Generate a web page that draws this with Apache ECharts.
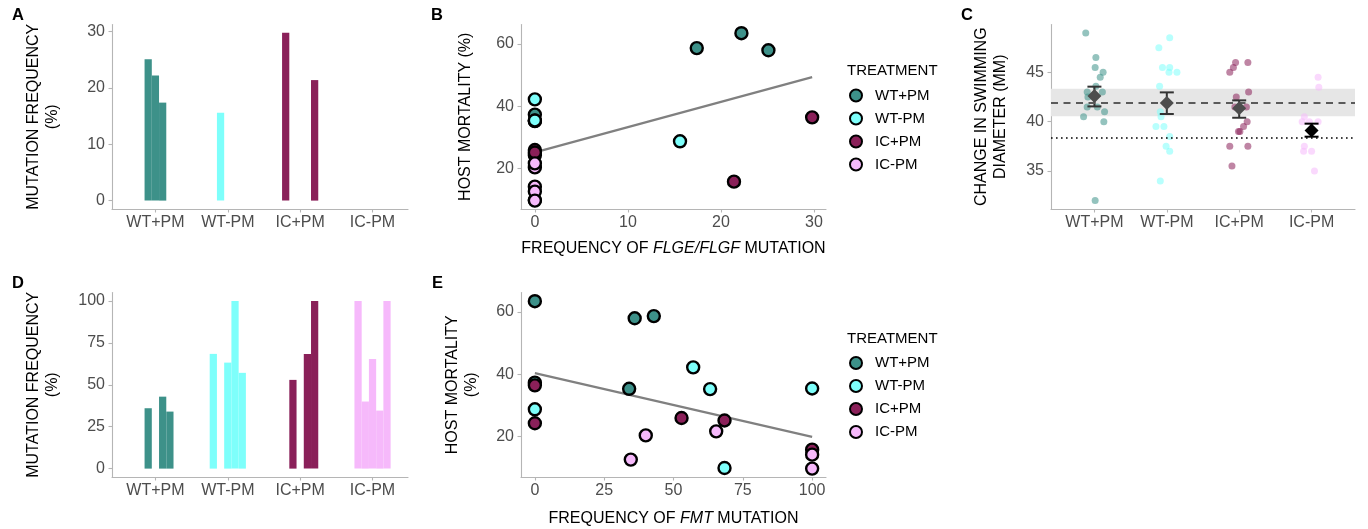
<!DOCTYPE html>
<html><head><meta charset="utf-8">
<script src="https://cdn.jsdelivr.net/npm/echarts@6/dist/echarts.min.js"></script>
<style>html,body{margin:0;padding:0;background:#fff}#c{width:1368px;height:529px}</style>
</head><body><div id="c"></div>
<script>
// ---------------- DATA ----------------
const treatments = ['WT+PM', 'WT-PM', 'IC+PM', 'IC-PM'];
const treatmentColors = ['#3d9189', '#7efffb', '#8a2059', '#f6b9fb'];

// five replicate populations per treatment (same order in every array)
const flgFreq_WTpPM = [0, 25.1, 22.2, 17.4, 0];
const flgFreq_WTmPM = [0, 15.6, 0, 0, 0];
const flgFreq_ICpPM = [29.8, 0, 0, 0, 21.4];
const flgFreq_ICmPM = [0, 0, 0, 0, 0];

const fmtFreq_WTpPM = [0, 36.0, 0, 42.9, 34.0];
const fmtFreq_WTmPM = [68.4, 0, 63.2, 100, 57.1];
const fmtFreq_ICpPM = [0, 52.9, 0, 68.4, 100];
const fmtFreq_ICmPM = [100, 40.0, 65.4, 34.6, 100];

const mortality_WTpPM = [37.3, 58.0, 63.5, 58.7, 35.3];
const mortality_WTmPM = [9.8, 28.7, 35.2, 35.4, 42.2];
const mortality_ICpPM = [36.4, 25.9, 24.2, 25.1, 15.7];
const mortality_ICmPM = [14.1, 20.3, 21.6, 12.5, 9.6];

// panel C: change in swimming diameter (mm) per replicate, with jitter offsets
const swim_WTpPM = [49.0, 46.5, 45.5, 45.0, 44.5, 43.6, 43.0, 43.0, 42.5, 41.5, 41.5, 40.5, 41.0, 40.0, 32.0];
const jit_WTpPM  = [-0.12, 0.02, 0.01, 0.12, 0.08, 0.02, -0.10, 0.11, -0.09, -0.10, 0.04, -0.15, 0.14, 0.13, 0.01];
const swim_WTmPM = [48.5, 47.5, 45.5, 45.5, 45.0, 45.0, 43.6, 41.0, 40.5, 39.5, 39.5, 38.5, 37.5, 37.0, 34.0];
const jit_WTmPM  = [0.04, -0.11, -0.06, 0.04, 0.03, 0.14, -0.10, -0.09, -0.08, -0.15, -0.04, 0.04, -0.01, 0.04, -0.09];
const swim_ICpPM = [46.0, 46.0, 45.5, 45.0, 42.5, 43.0, 41.5, 41.5, 40.0, 39.5, 39.0, 39.0, 37.5, 37.5, 35.5];
const jit_ICpPM  = [-0.05, 0.12, -0.08, -0.13, -0.04, 0.13, -0.06, 0.10, 0.11, 0.06, -0.01, 0.01, -0.13, 0.12, -0.10];
const swim_ICmPM = [44.5, 43.5, 40.5, 40.0, 40.0, 40.0, 37.5, 37.0, 37.0, 35.0];
const jit_ICmPM  = [0.09, 0.10, -0.10, -0.13, -0.03, 0.09, -0.10, -0.11, 0.00, 0.04];

const swimMean  = [42.6, 41.9, 41.35, 39.1];
const swimLower = [41.55, 40.78, 40.4, 38.48];
const swimUpper = [43.55, 42.97, 42.16, 39.8];
const ancestorBand = [40.54, 43.34];
const ancestorMean = 41.96;
const referenceDotted = 38.35;

const ticksA = [0, 10, 20, 30];
const ticksB_x = [0, 10, 20, 30];
const ticksMort = [20, 40, 60];
const ticksC = [35, 40, 45];
const ticksD = [0, 25, 50, 75, 100];
const ticksE_x = [0, 25, 50, 75, 100];
const catTicks = [1, 2, 3, 4];

// ---------------- BUILD ----------------
const flgFreq = [flgFreq_WTpPM, flgFreq_WTmPM, flgFreq_ICpPM, flgFreq_ICmPM];
const fmtFreq = [fmtFreq_WTpPM, fmtFreq_WTmPM, fmtFreq_ICpPM, fmtFreq_ICmPM];
const mortality = [mortality_WTpPM, mortality_WTmPM, mortality_ICpPM, mortality_ICmPM];
const swim = [swim_WTpPM, swim_WTmPM, swim_ICpPM, swim_ICmPM];
const jit = [jit_WTpPM, jit_WTmPM, jit_ICpPM, jit_ICmPM];

const FONT = "'Liberation Sans', Arial, Helvetica, sans-serif";
const AXIS_COL = '#b5b5b5';
const LABEL_COL = '#4d4d4d';

function ols(xs, ys) {
  const n = xs.length;
  const mx = xs.reduce((a, b) => a + b, 0) / n;
  const my = ys.reduce((a, b) => a + b, 0) / n;
  let sxy = 0, sxx = 0;
  for (let i = 0; i < n; i++) { sxy += (xs[i] - mx) * (ys[i] - my); sxx += (xs[i] - mx) ** 2; }
  const b = sxy / sxx;
  return { a: my - b * mx, b: b };
}
function fitLine(xsArr) {
  const xs = [].concat(...xsArr), ys = [].concat(...mortality);
  const f = ols(xs, ys);
  const lo = Math.min(...xs), hi = Math.max(...xs);
  return [[lo, f.a + f.b * lo], [hi, f.a + f.b * hi]];
}

function baseAxis(extra) {
  return Object.assign({
    axisLine: { show: true, onZero: false, lineStyle: { color: AXIS_COL, width: 1.1 } },
    axisTick: { show: true, length: 3.5, lineStyle: { color: AXIS_COL, width: 1.1 } },
    axisLabel: { color: LABEL_COL, fontSize: 16, fontFamily: FONT, margin: 7 },
    splitLine: { show: false },
    nameTextStyle: { color: '#000', fontSize: 16, fontFamily: FONT, lineHeight: 19 }
  }, extra);
}
function customTicks(axis, vals, formatter) {
  axis.axisTick = Object.assign({}, axis.axisTick, { customValues: vals });
  axis.axisLabel = Object.assign({}, axis.axisLabel, { customValues: vals });
  if (formatter) axis.axisLabel.formatter = formatter;
  return axis;
}
const catFmt = v => treatments[Math.round(v) - 1] || '';

const grids = [
  { left: 112, right: 960, top: 24.5, bottom: 320 },   // A
  { left: 521, right: 542, top: 24.5, bottom: 320 },   // B
  { left: 1051, right: 13, top: 24.5, bottom: 320 },   // C
  { left: 112, right: 960, top: 292.5, bottom: 52 },   // D
  { left: 521, right: 542, top: 292.5, bottom: 52 }    // E
];

const xAxes = [
  customTicks(baseAxis({ type: 'value', gridIndex: 0, min: 0.4, max: 4.49, axisLabel: { color: LABEL_COL, fontSize: 16, fontFamily: FONT, margin: 6 } }), catTicks, catFmt),
  customTicks(baseAxis({ type: 'value', gridIndex: 1, min: -1.49, max: 31.29,
    name: '{a|FREQUENCY OF }{b|FLGE/FLGF}{a| MUTATION}', nameLocation: 'middle', nameGap: 32,
    nameTextStyle: { rich: { a: { color: '#000', fontSize: 16, fontFamily: FONT }, b: { color: '#000', fontSize: 16, fontFamily: FONT, fontStyle: 'italic' } } },
    axisLabel: { color: LABEL_COL, fontSize: 16, fontFamily: FONT, margin: 6 } }), ticksB_x),
  customTicks(baseAxis({ type: 'value', gridIndex: 2, min: 0.4, max: 4.6, axisLabel: { color: LABEL_COL, fontSize: 16, fontFamily: FONT, margin: 6 } }), catTicks, catFmt),
  customTicks(baseAxis({ type: 'value', gridIndex: 3, min: 0.4, max: 4.49, axisLabel: { color: LABEL_COL, fontSize: 16, fontFamily: FONT, margin: 6 } }), catTicks, catFmt),
  customTicks(baseAxis({ type: 'value', gridIndex: 4, min: -5, max: 105,
    name: '{a|FREQUENCY OF }{b|FMT}{a| MUTATION}', nameLocation: 'middle', nameGap: 34,
    nameTextStyle: { rich: { a: { color: '#000', fontSize: 16, fontFamily: FONT }, b: { color: '#000', fontSize: 16, fontFamily: FONT, fontStyle: 'italic' } } },
    axisLabel: { color: LABEL_COL, fontSize: 16, fontFamily: FONT, margin: 6 } }), ticksE_x)
];
const yAxes = [
  customTicks(baseAxis({ type: 'value', gridIndex: 0, min: -1.49, max: 31.27, name: 'MUTATION FREQUENCY\n(%)', nameLocation: 'middle', nameGap: 50 }), ticksA),
  customTicks(baseAxis({ type: 'value', gridIndex: 1, min: 6.9, max: 66.3, name: 'HOST MORTALITY (%)', nameLocation: 'middle', nameGap: 46 }), ticksMort),
  customTicks(baseAxis({ type: 'value', gridIndex: 2, min: 31.15, max: 49.85, name: 'CHANGE IN SWIMMING\nDIAMETER (MM)', nameLocation: 'middle', nameGap: 41 }), ticksC),
  customTicks(baseAxis({ type: 'value', gridIndex: 3, min: -5, max: 105, name: 'MUTATION FREQUENCY\n(%)', nameLocation: 'middle', nameGap: 50 }), ticksD),
  customTicks(baseAxis({ type: 'value', gridIndex: 4, min: 6.9, max: 66.3, name: 'HOST MORTALITY\n(%)', nameLocation: 'middle', nameGap: 40 }), ticksMort)
];

function barData(freq) {
  const out = [];
  freq.forEach((arr, t) => arr.forEach((v, s) => out.push([t + 1, s, v, t])));
  return out;
}
function barRender(params, api) {
  const cat = api.value(0), slot = api.value(1), v = api.value(2), t = api.value(3);
  const w = 0.1;
  const x0 = cat + (slot - 2) * w - w / 2;
  const p0 = api.coord([x0, v]);
  const p1 = api.coord([x0 + w, 0]);
  return { type: 'rect', shape: { x: p0[0], y: p0[1], width: p1[0] - p0[0], height: p1[1] - p0[1] },
    style: { fill: treatmentColors[t] } };
}

const series = [];
// A and D bars
series.push({ type: 'custom', xAxisIndex: 0, yAxisIndex: 0, data: barData(flgFreq), renderItem: barRender, encode: { x: 0, y: 2 }, silent: true });
series.push({ type: 'custom', xAxisIndex: 3, yAxisIndex: 3, data: barData(fmtFreq), renderItem: barRender, encode: { x: 0, y: 2 }, silent: true });

// B and E regression lines
series.push({ type: 'line', xAxisIndex: 1, yAxisIndex: 1, data: fitLine(flgFreq), symbol: 'none', lineStyle: { color: '#808080', width: 2.2 }, silent: true, z: 1 });
series.push({ type: 'line', xAxisIndex: 4, yAxisIndex: 4, data: fitLine(fmtFreq), symbol: 'none', lineStyle: { color: '#808080', width: 2.2 }, silent: true, z: 1 });

// B and E scatters
[[1, flgFreq], [4, fmtFreq]].forEach(([ax, freq]) => {
  treatments.forEach((name, t) => {
    series.push({ type: 'scatter', name: name, xAxisIndex: ax, yAxisIndex: ax,
      data: freq[t].map((x, i) => [x, mortality[t][i]]),
      symbolSize: 12, z: 3,
      itemStyle: { color: treatmentColors[t], borderColor: '#000', borderWidth: 2.4, opacity: 1 } });
  });
});

// C: reference band and lines
series.push({ type: 'scatter', xAxisIndex: 2, yAxisIndex: 2, data: [], z: 1, silent: true,
  markArea: { silent: true, itemStyle: { color: '#e6e6e6', opacity: 1 }, data: [[{ yAxis: ancestorBand[0] }, { yAxis: ancestorBand[1] }]] },
  markLine: { silent: true, symbol: 'none', label: { show: false },
    data: [
      { yAxis: ancestorMean, lineStyle: { color: '#5a5a5a', width: 1.8, type: [7, 5.5] } },
      { yAxis: referenceDotted, lineStyle: { color: '#000', width: 1.6, type: [1.6, 3.4] } }
    ] } });
// C points
treatments.forEach((name, t) => {
  series.push({ type: 'scatter', xAxisIndex: 2, yAxisIndex: 2, z: 3, silent: true,
    data: swim[t].map((v, i) => [t + 1 + jit[t][i], v]),
    symbolSize: 7, itemStyle: { color: treatmentColors[t], opacity: 0.55 } });
});
// C error bars
series.push({ type: 'custom', xAxisIndex: 2, yAxisIndex: 2, z: 4, silent: true,
  data: swimMean.map((m, t) => [t + 1, m, swimLower[t], swimUpper[t], t]),
  encode: { x: 0, y: 1 },
  renderItem: function (params, api) {
    const x = api.value(0), lo = api.value(2), hi = api.value(3), t = api.value(4);
    const pLo = api.coord([x, lo]), pHi = api.coord([x, hi]);
    const col = t === 3 ? '#000' : '#333';
    const hw = 7;
    const st = { stroke: col, lineWidth: 2 };
    return { type: 'group', children: [
      { type: 'line', shape: { x1: pLo[0], y1: pLo[1], x2: pHi[0], y2: pHi[1] }, style: st },
      { type: 'line', shape: { x1: pLo[0] - hw, y1: pLo[1], x2: pLo[0] + hw, y2: pLo[1] }, style: st },
      { type: 'line', shape: { x1: pHi[0] - hw, y1: pHi[1], x2: pHi[0] + hw, y2: pHi[1] }, style: st }
    ] };
  } });
// C means
series.push({ type: 'scatter', xAxisIndex: 2, yAxisIndex: 2, z: 5, silent: true, symbol: 'diamond', symbolSize: [14, 14],
  data: swimMean.map((m, t) => ({ value: [t + 1, m], itemStyle: { color: t === 3 ? '#000' : '#4d4d4d', opacity: 1 } })) });

const letterStyle = { fontSize: 16.5, fontWeight: 'bold', color: '#000', fontFamily: FONT };
const titles = [
  { text: 'A', left: 12, top: 7 }, { text: 'B', left: 431, top: 7 }, { text: 'C', left: 961, top: 7 },
  { text: 'D', left: 12, top: 275 }, { text: 'E', left: 432, top: 275 },
  { text: 'TREATMENT', left: 847, top: 63, textStyle: { fontSize: 15, fontWeight: 'normal', color: '#000', fontFamily: FONT } },
  { text: 'TREATMENT', left: 847, top: 331, textStyle: { fontSize: 15, fontWeight: 'normal', color: '#000', fontFamily: FONT } }
].map(t => Object.assign({ padding: 0, textStyle: letterStyle }, t));

function legendAt(top) {
  return { data: treatments, orient: 'vertical', left: 849, top: top, padding: 0,
    itemWidth: 12, itemHeight: 12, itemGap: 8, icon: 'circle', selectedMode: false,
    itemStyle: { borderColor: '#000', borderWidth: 2 },
    textStyle: { fontSize: 15, color: '#000', fontFamily: FONT, padding: [0, 0, 0, 8] } };
}

const chart = echarts.init(document.getElementById('c'), null, { renderer: 'canvas' });
chart.setOption({
  animation: false,
  backgroundColor: '#fff',
  title: titles,
  legend: [legendAt(88), legendAt(355.5)],
  grid: grids,
  xAxis: xAxes,
  yAxis: yAxes,
  series: series
});
</script></body></html>
